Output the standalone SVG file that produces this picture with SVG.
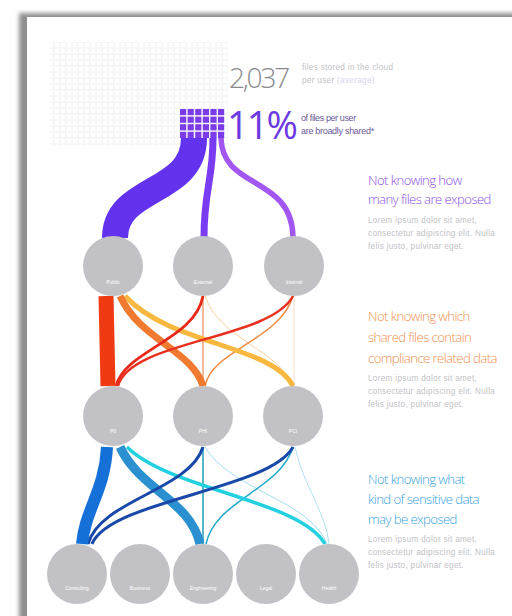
<svg xmlns="http://www.w3.org/2000/svg" width="512" height="616" viewBox="0 0 512 616">
<defs>
<filter id="sh" x="-10%" y="-10%" width="120%" height="120%"><feGaussianBlur stdDeviation="2"/></filter>
<pattern id="grid" width="6" height="6" patternUnits="userSpaceOnUse"><rect x="0.5" y="0.5" width="5" height="5" fill="none" stroke="#f5f5f7" stroke-width="0.8"/></pattern>
<style>
.node circle{fill:#c2c2c6}
.node text{fill:#ffffff;font-family:"Liberation Sans",Arial,sans-serif;font-size:5px;text-anchor:middle}
.flow{fill:none;stroke-linecap:butt}
.h{font-family:"Open Sans","Liberation Sans",sans-serif;font-size:13.2px;font-weight:300;letter-spacing:-0.6px}
.b{font-family:"Liberation Sans",Arial,sans-serif;font-size:8.2px;fill:#c2c2c6;letter-spacing:0.3px}
</style>
</defs>
<rect width="512" height="616" fill="#ffffff"/>
<rect x="19" y="13" width="520" height="620" fill="#909090" filter="url(#sh)"/>
<rect x="27" y="17" width="500" height="620" fill="#ffffff"/>
<rect x="50" y="42" width="178" height="104" fill="url(#grid)"/>

<g id="header">
<text x="229" y="88" font-family="Open Sans,Liberation Sans,sans-serif" font-weight="300" font-size="28" fill="#8a8a8e" letter-spacing="-2.2">2,037</text>
<text x="302" y="70" class="b" font-size="8.4px" letter-spacing="0.5">files stored in the cloud</text>
<text x="302" y="83" class="b" font-size="8.4px" letter-spacing="0.5">per user <tspan fill="#dcd4f2">(average)</tspan></text>
<g id="purplegrid" fill="#7a3ce8">
<rect x="180" y="109" width="6.2" height="6.2"/><rect x="187.6" y="109" width="6.2" height="6.2"/><rect x="195.2" y="109" width="6.2" height="6.2"/><rect x="202.8" y="109" width="6.2" height="6.2"/><rect x="210.4" y="109" width="6.2" height="6.2"/><rect x="218" y="109" width="6.2" height="6.2"/>
<rect x="180" y="116.6" width="6.2" height="6.2"/><rect x="187.6" y="116.6" width="6.2" height="6.2"/><rect x="195.2" y="116.6" width="6.2" height="6.2"/><rect x="202.8" y="116.6" width="6.2" height="6.2"/><rect x="210.4" y="116.6" width="6.2" height="6.2"/><rect x="218" y="116.6" width="6.2" height="6.2"/>
<rect x="180" y="124.2" width="6.2" height="6.2"/><rect x="187.6" y="124.2" width="6.2" height="6.2"/><rect x="195.2" y="124.2" width="6.2" height="6.2"/><rect x="202.8" y="124.2" width="6.2" height="6.2"/><rect x="210.4" y="124.2" width="6.2" height="6.2"/><rect x="218" y="124.2" width="6.2" height="6.2"/>
<rect x="180" y="131.8" width="6.2" height="6.2"/><rect x="187.6" y="131.8" width="6.2" height="6.2"/><rect x="195.2" y="131.8" width="6.2" height="6.2"/><rect x="202.8" y="131.8" width="6.2" height="6.2"/><rect x="210.4" y="131.8" width="6.2" height="6.2"/><rect x="218" y="131.8" width="6.2" height="6.2"/>
</g>
<text x="227" y="139" font-family="Open Sans,Liberation Sans,sans-serif" font-weight="400" font-size="38" fill="#6a3ae0" letter-spacing="-2">11%</text>
<text x="301" y="121" font-family="Liberation Sans,Arial,sans-serif" font-size="9" fill="#6a5a9a" letter-spacing="-0.4">of files per user</text>
<text x="301" y="134" font-family="Liberation Sans,Arial,sans-serif" font-size="9" fill="#6a5a9a" letter-spacing="-0.3">are broadly shared*</text>
</g>

<g id="connectors">
<path class="flow" d="M194,138 C194,195 115,185 115,238" stroke="#6232ee" stroke-width="26"/>
<path class="flow" d="M213,138 C213,180 204,190 204,237" stroke="#7a3cf2" stroke-width="7"/>
<path class="flow" d="M221,138 C222,190 292,175 293,237" stroke="#a256f2" stroke-width="5.5"/>

<path class="flow" d="M294,296 L294,386" stroke="#f8dcc8" stroke-width="1"/>
<path class="flow" d="M205,296 C220,340 280,350 292,386" stroke="#f8d0a0" stroke-width="1"/>
<path class="flow" d="M203,296 L203,386" stroke="#f0a078" stroke-width="1.5"/>
<path class="flow" d="M293,296 C280,340 212,350 205,386" stroke="#f08a40" stroke-width="1.5"/>
<path class="flow" d="M125,296 C170,345 272,345 293,386" stroke="#f8b840" stroke-width="5"/>
<path class="flow" d="M120,296 C140,340 192,350 203,386" stroke="#f07a30" stroke-width="7"/>
<path class="flow" d="M203,296 C195,340 125,350 116,386" stroke="#e82818" stroke-width="2.8"/>
<path class="flow" d="M293,296 C270,340 130,340 118,386" stroke="#e83020" stroke-width="2.5"/>
<path class="flow" d="M106,296 L108,386" stroke="#f03a12" stroke-width="15"/>

<path class="flow" d="M295,447 C305,490 325,510 329,544" stroke="#b0e4f0" stroke-width="1"/>
<path class="flow" d="M205,447 C230,490 310,500 327,544" stroke="#a0e0f0" stroke-width="1"/>
<path class="flow" d="M203,447 L203,544" stroke="#20a0b8" stroke-width="1.5"/>
<path class="flow" d="M293,447 C280,490 215,500 206,544" stroke="#20a8c8" stroke-width="1.5"/>
<path class="flow" d="M127,447 C170,490 300,500 325,544" stroke="#22d0e0" stroke-width="3.5"/>
<path class="flow" d="M120,447 C140,490 190,500 200,544" stroke="#2a90d0" stroke-width="9"/>
<path class="flow" d="M203,447 C190,490 100,500 88,544" stroke="#1848a8" stroke-width="3"/>
<path class="flow" d="M293,447 C270,490 110,500 92,544" stroke="#1848a8" stroke-width="3"/>
<path class="flow" d="M107,447 C105,490 85,510 82,544" stroke="#1570d8" stroke-width="12"/>
</g>

<g id="n-public" class="node"><circle cx="113" cy="266" r="30"/><text x="113" y="284">Public</text></g>
<g id="n-external" class="node"><circle cx="203" cy="266" r="30"/><text x="203" y="284">External</text></g>
<g id="n-internal" class="node"><circle cx="294" cy="266" r="30"/><text x="294" y="284">Internal</text></g>
<g id="n-pii" class="node"><circle cx="113" cy="416" r="30"/><text x="113" y="433">PII</text></g>
<g id="n-phi" class="node"><circle cx="203" cy="416" r="30"/><text x="203" y="433">PHI</text></g>
<g id="n-pci" class="node"><circle cx="293" cy="416" r="30"/><text x="293" y="433">PCI</text></g>
<g id="n-consulting" class="node"><circle cx="77" cy="574" r="30"/><text x="77" y="590">Consulting</text></g>
<g id="n-business" class="node"><circle cx="140" cy="574" r="30"/><text x="140" y="590">Business</text></g>
<g id="n-engineering" class="node"><circle cx="203" cy="574" r="30"/><text x="203" y="590">Engineering</text></g>
<g id="n-legal" class="node"><circle cx="266" cy="574" r="30"/><text x="266" y="590">Legal</text></g>
<g id="n-health" class="node"><circle cx="329" cy="574" r="30"/><text x="329" y="590">Health</text></g>

<g id="note1">
<text x="368" y="185" class="h" fill="#8a52e8">Not knowing how</text>
<text x="368" y="204" class="h" fill="#8a52e8">many files are exposed</text>
<text x="368" y="223" class="b">Lorem ipsum dolor sit amet,</text>
<text x="368" y="236" class="b">consectetur adipiscing elit. Nulla</text>
<text x="368" y="249" class="b">felis justo, pulvinar eget.</text>
</g>
<g id="note2">
<text x="368" y="321" class="h" fill="#f29050">Not knowing which</text>
<text x="368" y="342" class="h" fill="#f29050">shared files contain</text>
<text x="368" y="363" class="h" fill="#f29050">compliance related data</text>
<text x="368" y="381" class="b">Lorem ipsum dolor sit amet,</text>
<text x="368" y="394" class="b">consectetur adipiscing elit. Nulla</text>
<text x="368" y="407" class="b">felis justo, pulvinar eget.</text>
</g>
<g id="note3">
<text x="368" y="484" class="h" fill="#3aa4e0">Not knowing what</text>
<text x="368" y="504" class="h" fill="#3aa4e0">kind of sensitive data</text>
<text x="368" y="524" class="h" fill="#3aa4e0">may be exposed</text>
<text x="368" y="542" class="b">Lorem ipsum dolor sit amet,</text>
<text x="368" y="555" class="b">consectetur adipiscing elit. Nulla</text>
<text x="368" y="568" class="b">felis justo, pulvinar eget.</text>
</g>
</svg>
